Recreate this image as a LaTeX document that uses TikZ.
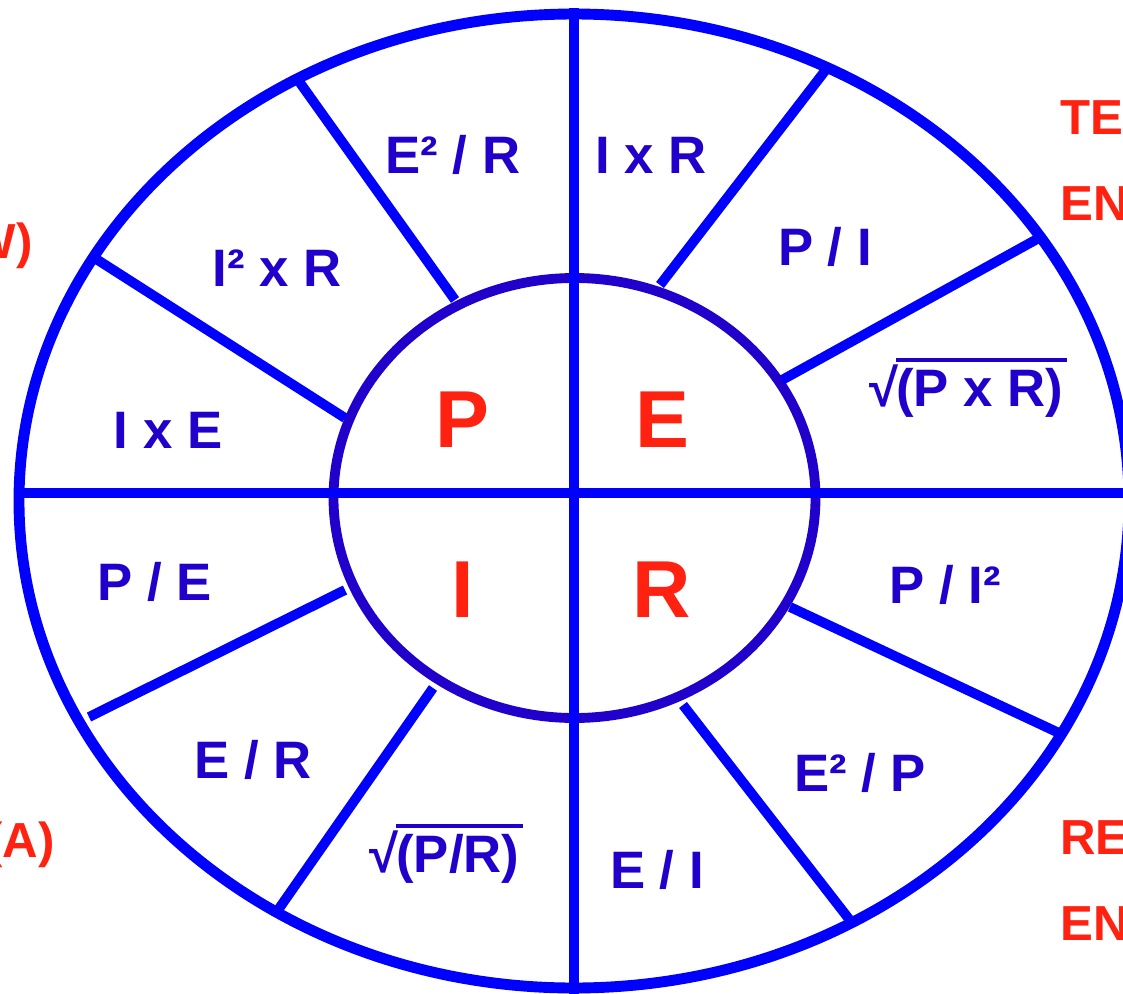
\documentclass[tikz,border=0pt]{standalone}
\usepackage{fontspec}
\setmainfont{Liberation Sans}
\usetikzlibrary{positioning}
\definecolor{wheelblue}{RGB}{0,0,255}
\definecolor{hubblue}{RGB}{34,0,204}
\definecolor{inkblue}{RGB}{34,0,204}
\definecolor{markred}{RGB}{255,34,17}
\tikzstyle{rim} = [draw=wheelblue, line width=6.2pt]
\tikzstyle{hub} = [draw=hubblue, line width=5.6pt]
\tikzstyle{spoke} = [draw=wheelblue, line width=5.6pt]
\tikzstyle{formula} = [text=inkblue, font=\fontsize{30}{34}\selectfont\bfseries, inner sep=0pt]
\tikzstyle{letter} = [text=markred, font=\fontsize{46}{50}\selectfont\bfseries, inner sep=0pt]
\tikzstyle{sidetext} = [text=markred, font=\fontsize{28}{32}\selectfont\bfseries, inner sep=0pt]
\newcommand{\rootbar}[1]{√\kern-1pt\vbox{\hrule height 2.4pt\kern 3.5pt\hbox{#1\kern2pt}}}

\begin{document}
\begin{tikzpicture}[x=0.02cm, y=-0.02cm]
    \useasboundingbox (0,0) rectangle (1123,994);
    \clip (0,0) rectangle (1123,994);

    % rim and hub
    \draw [rim] (574,501) ellipse [x radius=555, y radius=487];
    \draw [hub] (574.5,498) ellipse [x radius=241, y radius=220];

    % end points of the spokes
    \coordinate (top) at (574,8);
    \coordinate (bottom) at (574,994);
    \coordinate (left) at (14,493);
    \coordinate (right) at (1123,493);
    \coordinate (h1) at (455,300);  \coordinate (r1) at (298,80);
    \coordinate (h2) at (345,418);  \coordinate (r2) at (93,257);
    \coordinate (h3) at (345,590);  \coordinate (r3) at (89,717);
    \coordinate (h4) at (433,688);  \coordinate (r4) at (278,910);
    \coordinate (h5) at (683,705);  \coordinate (r5) at (849,919);
    \coordinate (h6) at (790,607);  \coordinate (r6) at (1059,733);
    \coordinate (h7) at (782,380);  \coordinate (r7) at (1039,238);
    \coordinate (h8) at (660,285);  \coordinate (r8) at (828,67);

    \draw [spoke, line width=6.2pt] (top) -- (bottom);
    \draw [spoke, line width=6.2pt] (left) -- (right);
    \foreach \i in {1,...,8}
        \draw [spoke] (h\i) -- (r\i);

    % letters in the hub
    \node (pw) [letter] at (462,420) {P};
    \node (em) [letter] at (662,420) {E};
    \node (cu) [letter] at (463,590) {I};
    \node (re) [letter] at (662,590) {R};

    % formulas on the rim
    \node (f1) [formula] at (453,155) {E² / R};
    \node (f2) [formula] at (651,155) {I x R};
    \node (f3) [formula] at (277,268) {I² x R};
    \node (f4) [formula] at (825,247) {P / I};
    \node (f5) [formula] at (168,430) {I x E};
    \node (f6) [formula] at (968,388) {\rootbar{(P x R)}};
    \node (f7) [formula] at (155,582) {P / E};
    \node (f8) [formula] at (945,585) {P / I²};
    \node (f9) [formula] at (253,760) {E / R};
    \node (f10) [formula] at (860,773) {E² / P};
    \node (f11) [formula] at (446,854) {\rootbar{(P/R)}};
    \node (f12) [formula] at (657,870) {E / I};

    % side texts
    \node (s1) [sidetext, anchor=west] at (1060,118) {TE};
    \node (s2) [sidetext, anchor=west] at (1060,204) {EN};
    \node (s3) [sidetext, anchor=west] at (1060,838) {RE};
    \node (s4) [sidetext, anchor=west] at (1060,924) {EN};
    \node (s5) [sidetext, anchor=east] at (33,246) {W)};
    \node (s6) [sidetext, anchor=east] at (55,845) {(A)};
\end{tikzpicture}
\end{document}
